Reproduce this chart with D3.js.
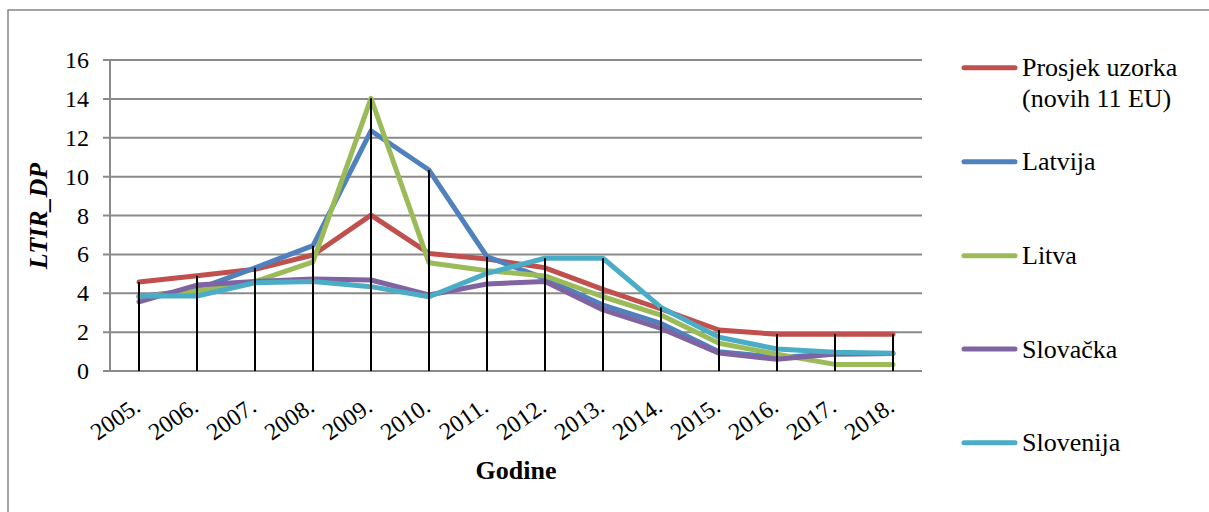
<!DOCTYPE html>
<html><head><meta charset="utf-8">
<script src="https://cdn.jsdelivr.net/npm/d3@7"></script>
<style>text{font-family:"Liberation Serif",serif;}</style>
</head><body style="margin:0">
<svg id="c" width="1209" height="512" font-family="Liberation Serif"></svg>
<script>
const years = ["2005.","2006.","2007.","2008.","2009.","2010.","2011.","2012.","2013.","2014.","2015.","2016.","2017.","2018."];
const seriesNames = ["Prosjek uzorka (novih 11 EU)","Latvija","Litva","Slovačka","Slovenija"];
const prosjek  = [4.58,4.90,5.23,5.97,8.02,6.05,5.76,5.31,4.20,3.19,2.11,1.89,1.89,1.89];
const latvija  = [3.82,4.20,5.31,6.45,12.36,10.34,5.88,4.75,3.39,2.45,0.99,0.70,0.88,0.90];
const litva    = [3.80,4.13,4.60,5.62,14.03,5.57,5.16,4.89,3.82,2.88,1.43,0.86,0.34,0.34];
const slovacka = [3.56,4.42,4.60,4.73,4.68,3.91,4.48,4.60,3.14,2.19,0.92,0.60,0.87,0.90];
const slovenija= [3.86,3.86,4.54,4.60,4.34,3.82,5.02,5.80,5.80,3.27,1.74,1.13,0.96,0.91];
const colors = ["#C0504D","#4F81BD","#9BBB59","#8064A2","#4BACC6"];
const yTicks = [0,2,4,6,8,10,12,14,16];

const allSeries = [prosjek, latvija, litva, slovacka, slovenija];
const svg = d3.select("#c");
const serif = "Liberation Serif";

// outer frame
svg.append("rect").attr("x",8).attr("y",10).attr("width",1300).attr("height",600)
  .attr("fill","none").attr("stroke","#878787").attr("stroke-width",1.5);

const x = d3.scalePoint().domain(years).range([110,922]).padding(0.5);
const y = d3.scaleLinear().domain([0,16]).range([371,60]);

// gridlines
svg.append("g").selectAll("line").data(yTicks).join("line")
  .attr("x1",103).attr("x2",922).attr("y1",d=>y(d)).attr("y2",d=>y(d))
  .attr("stroke","#8a8a8a").attr("stroke-width",2);
// y axis line
svg.append("line").attr("x1",110).attr("x2",110).attr("y1",y(16)).attr("y2",y(0))
  .attr("stroke","#8a8a8a").attr("stroke-width",2);

// y tick labels
yTicks.forEach(d=>{
  svg.append("text").attr("x",89).attr("y",y(d)+8).attr("text-anchor","end")
    .attr("font-size",24).style("font-family",serif).text(d);
});

// x tick labels
years.forEach(d=>{
  svg.append("text").attr("transform",`translate(${x(d)+3},${410}) rotate(-35)`)
    .attr("text-anchor","end").attr("font-size",24).style("font-family",serif).text(d);
});

// lines
const line = d3.line().x((d,i)=>x(years[i])).y(d=>y(d));
svg.append("g").selectAll("path").data(allSeries).join("path")
  .attr("d",d=>line(d)).attr("fill","none")
  .attr("stroke",(d,i)=>colors[i]).attr("stroke-width",5)
  .attr("stroke-linejoin","round").attr("stroke-linecap","round");

// drop lines
svg.append("g").selectAll("line").data(years).join("line")
  .attr("x1",d=>x(d)).attr("x2",d=>x(d))
  .attr("y1",(d,i)=>y(d3.max(allSeries,s=>s[i]))).attr("y2",y(0))
  .attr("stroke","#000").attr("stroke-width",2);

// axis titles
svg.append("text").attr("x",516).attr("y",479).attr("text-anchor","middle")
  .attr("font-size",26).attr("font-weight","bold").style("font-family",serif).text("Godine");
svg.append("text").attr("transform","translate(47,216) rotate(-90)").attr("text-anchor","middle")
  .attr("font-size",26).attr("font-weight","bold").attr("font-style","italic")
  .style("font-family",serif).text("LTIR_DP");

// legend
const legendY = [67.7,161.7,255.7,349,442.7];
seriesNames.forEach((d,i)=>{
  svg.append("line").attr("x1",964).attr("x2",1015).attr("y1",legendY[i]).attr("y2",legendY[i])
    .attr("stroke",colors[i]).attr("stroke-width",5).attr("stroke-linecap","round");
  if(d.startsWith("Prosjek")){
    svg.append("text").attr("x",1022).attr("y",legendY[i]+8.5).attr("font-size",26)
      .style("font-family",serif).text("Prosjek uzorka");
    svg.append("text").attr("x",1022).attr("y",legendY[i]+39).attr("font-size",26)
      .style("font-family",serif).text("(novih 11 EU)");
  } else {
    svg.append("text").attr("x",1022).attr("y",legendY[i]+8.5).attr("font-size",26)
      .style("font-family",serif).text(d);
  }
});
</script>
</body></html>
